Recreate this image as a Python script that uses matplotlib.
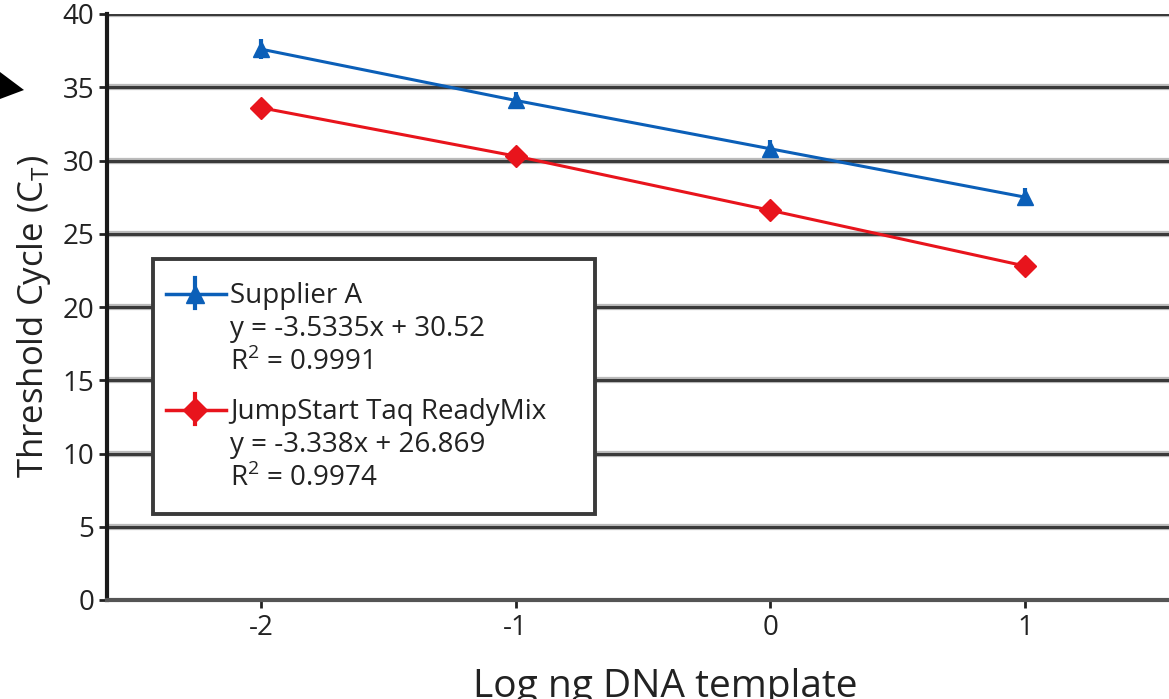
import matplotlib
matplotlib.use("Agg")
import matplotlib.pyplot as plt
from matplotlib.lines import Line2D
from matplotlib.patches import Rectangle, Polygon

# data
log_ng = [-2, -1, 0, 1]
supplier_a = [37.6, 34.1, 30.8, 27.5]
jumpstart = [33.6, 30.3, 26.6, 22.8]
err_a = [0.7, 0.6, 0.6, 0.6]
err_js = [0.6, 0.6, 0.6, 0.6]

# trendline coefficients shown in the legend
fit_a = (-3.5335, 30.52)
fit_js = (-3.338, 26.869)
r2_a = 0.9991
r2_js = 0.9974

y_ticks = [0, 5, 10, 15, 20, 25, 30, 35, 40]

plt.rcParams["font.family"] = ["Open Sans", "DejaVu Sans"]
plt.rcParams["axes.unicode_minus"] = False

blue = "#0b5fb8"
red = "#e8141c"
txt = "#222222"

W, H = 1169, 699
fig = plt.figure(figsize=(W / 100, H / 100), dpi=100)

def fx(px):
    return px / W

def fy(py):
    return 1 - py / H

ax = fig.add_axes([fx(107), fy(600), fx(1169 - 107), fy(14) - fy(600)])
ax.set_xlim(-2.605, 1.566)
ax.set_ylim(0, 40)

# horizontal grid lines
for t in y_ticks[1:]:
    ax.axhline(t, color="#bbbbbb", lw=4.5, zorder=1)
    ax.axhline(t, color="#3a3a3a", lw=2.2, zorder=1)

# lines through the points
ax.plot(log_ng, supplier_a, color=blue, lw=2.2, zorder=3)
ax.plot(log_ng, jumpstart, color=red, lw=2.2, zorder=3)

# data points with error bars
ax.errorbar(log_ng, supplier_a, yerr=err_a, fmt="^", color=blue, ms=12,
            elinewidth=3, capsize=0, zorder=4)
ax.errorbar(log_ng, jumpstart, yerr=err_js, fmt="D", color=red, ms=11,
            elinewidth=3, capsize=0, zorder=4)

ax.spines["right"].set_visible(False)
ax.spines["top"].set_visible(False)
ax.spines["left"].set_color("#1a1a1a")
ax.spines["left"].set_linewidth(3)
ax.spines["bottom"].set_color("#555555")
ax.spines["bottom"].set_linewidth(3)

ax.set_yticks(y_ticks)
ax.set_xticks(log_ng)
ax.set_xticklabels([str(v) for v in log_ng])
ax.tick_params(axis="both", labelsize=20, colors=txt, length=6, width=2)
ax.tick_params(axis="x", pad=4)
ax.tick_params(axis="y", pad=3)

fig.text(fx(34), fy(316), "Threshold Cycle (C$_\\mathregular{T}$)", rotation=90,
         ha="center", va="center", fontsize=25, color=txt)
fig.text(fx(665), fy(697), "Log ng DNA template", ha="center", va="baseline",
         fontsize=28, color=txt)

# legend box
fig.patches.append(Rectangle((fx(153), fy(514)), fx(595 - 153), fy(259) - fy(514),
                             transform=fig.transFigure, facecolor="white",
                             edgecolor="#3a3a3a", lw=2.8, zorder=5))

entries = [
    (blue, "^", 13, 294, ["Supplier A",
                          "y = %.4fx + %.2f" % fit_a,
                          "R$^\\mathregular{2}$ = %.4f" % r2_a]),
    (red, "D", 12, 410, ["JumpStart Taq ReadyMix",
                         "y = %.3fx + %.3f" % fit_js,
                         "R$^\\mathregular{2}$ = %.4f" % r2_js]),
]
for color, marker, ms, ytop, lines in entries:
    fig.lines.append(Line2D([fx(166), fx(226)], [fy(ytop), fy(ytop)],
                            transform=fig.transFigure, color=color, lw=2.5, zorder=6))
    fig.lines.append(Line2D([fx(195)], [fy(ytop)], transform=fig.transFigure,
                            color=color, marker=marker, ms=ms, lw=0, zorder=7))
    fig.lines.append(Line2D([fx(195), fx(195)], [fy(ytop - 16), fy(ytop + 14)],
                            transform=fig.transFigure, color=color, lw=3, zorder=6))
    for i, s in enumerate(lines):
        fig.text(fx(230), fy(ytop + 2 + 33 * i), s, ha="left", va="center",
                 fontsize=20, color=txt, zorder=8)

# black arrow pointer at left
fig.patches.append(Polygon([(fx(0), fy(72)), (fx(24), fy(90)), (fx(0), fy(99))],
                           closed=True, transform=fig.transFigure,
                           facecolor="black", edgecolor="none"))

fig.savefig("out.png", dpi=100)
